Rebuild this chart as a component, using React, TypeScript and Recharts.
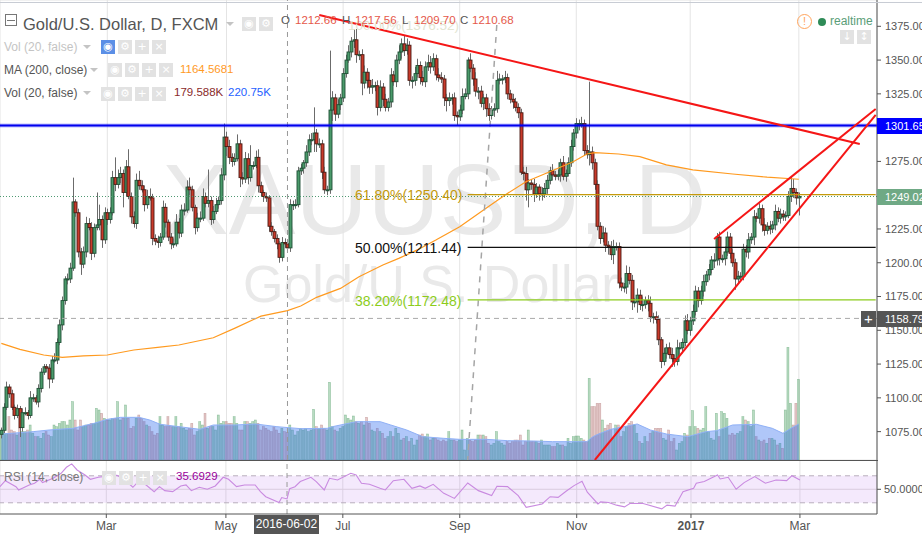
import { ComposedChart, Bar, Line, Area, XAxis, YAxis, CartesianGrid, ReferenceLine, ReferenceArea } from 'recharts'

const closes = [
  1076, 1093, 1108, 1103, 1093, 1087, 1092, 1078, 1089, 1089,
  1087, 1100, 1100, 1097, 1107, 1119, 1123, 1122, 1114, 1128,
  1128, 1141, 1154, 1172, 1188, 1188, 1196, 1245, 1237, 1208,
  1199, 1208, 1229, 1226, 1207, 1226, 1228, 1232, 1217, 1237,
  1232, 1237, 1263, 1258, 1263, 1266, 1252, 1271, 1249, 1234,
  1229, 1261, 1257, 1254, 1243, 1249, 1248, 1218, 1216, 1215,
  1219, 1241, 1230, 1219, 1214, 1214, 1230, 1222, 1239, 1239,
  1256, 1254, 1241, 1226, 1233, 1233, 1249, 1244, 1246, 1232,
  1238, 1243, 1246, 1265, 1293, 1286, 1278, 1275, 1277, 1288,
  1263, 1262, 1277, 1263, 1272, 1272, 1278, 1257, 1252, 1249,
  1248, 1227, 1223, 1218, 1214, 1204, 1215, 1214, 1211, 1243,
  1243, 1243, 1268, 1270, 1274, 1282, 1291, 1291, 1296, 1288,
  1288, 1267, 1254, 1254, 1313, 1322, 1310, 1317, 1322, 1340,
  1350, 1356, 1364, 1365, 1354, 1354, 1333, 1341, 1335, 1330,
  1331, 1331, 1315, 1330, 1321, 1315, 1319, 1339, 1334, 1350,
  1356, 1362, 1357, 1361, 1335, 1335, 1340, 1346, 1337, 1334,
  1345, 1348, 1345, 1351, 1339, 1337, 1336, 1322, 1320, 1322,
  1322, 1309, 1308, 1313, 1323, 1325, 1350, 1344, 1336, 1327,
  1327, 1318, 1322, 1314, 1309, 1313, 1314, 1335, 1336, 1336,
  1337, 1325, 1321, 1319, 1315, 1311, 1267, 1266, 1254, 1259,
  1258, 1251, 1256, 1251, 1251, 1255, 1261, 1268, 1265, 1264,
  1265, 1274, 1264, 1266, 1274, 1286, 1296, 1303, 1303, 1303,
  1283, 1280, 1282, 1274, 1258, 1227, 1218, 1222, 1213, 1212,
  1206, 1212, 1212, 1185, 1182, 1182, 1192, 1187, 1171, 1171,
  1176, 1169, 1169, 1172, 1170, 1160, 1160, 1158, 1143, 1127,
  1133, 1137, 1132, 1129, 1127, 1137, 1137, 1141, 1157, 1150,
  1157, 1164, 1179, 1172, 1179, 1186, 1191, 1195, 1202, 1202,
  1219, 1203, 1203, 1208, 1219, 1207, 1200, 1188, 1190, 1190,
  1210, 1208, 1217, 1219, 1234, 1233, 1240, 1228, 1224, 1227,
  1225, 1228, 1238, 1233, 1236, 1234, 1235, 1249, 1255, 1252,
  1248, 1249,
]

// wick length above / below the candle body, in dollars
const upperWicks = [
  2, 3, 4, 2, 3, 2, 3, 2, 3, 4, 2, 5, 3, 2, 3, 3, 2, 2, 3, 3,
  5, 3, 4, 3, 2, 4, 4, 18, 2, 3, 3, 4, 5, 4, 4, 3, 24, 11, 3, 4,
  3, 4, 5, 15, 6, 5, 3, 5, 13, 3, 4, 5, 7, 4, 3, 5, 6, 3, 3, 4,
  3, 5, 3, 2, 3, 4, 6, 3, 4, 5, 5, 7, 3, 2, 4, 5, 6, 3, 23, 3,
  4, 5, 3, 5, 10, 4, 5, 3, 4, 7, 3, 4, 5, 4, 15, 3, 5, 6, 3, 2,
  3, 2, 3, 2, 3, 2, 4, 3, 3, 4, 3, 4, 3, 3, 2, 5, 4, 5, 19, 3,
  4, 3, 4, 3, 44, 5, 3, 4, 3, 4, 4, 5, 3, 8, 8, 3, 4, 5, 3, 6,
  5, 3, 4, 5, 3, 4, 3, 5, 3, 4, 5, 4, 6, 5, 3, 3, 5, 5, 3, 5,
  4, 6, 5, 4, 3, 5, 4, 3, 3, 4, 3, 4, 3, 4, 6, 4, 2, 5, 3, 5,
  3, 4, 3, 3, 4, 3, 4, 7, 4, 3, 5, 3, 3, 4, 3, 3, 3, 4, 5, 3,
  3, 4, 3, 2, 5, 4, 4, 3, 5, 3, 4, 3, 5, 3, 4, 5, 3, 4, 3, 5,
  3, 4, 52, 4, 3, 3, 3, 5, 4, 3, 4, 5, 3, 3, 4, 3, 6, 5, 4, 3,
  5, 4, 6, 3, 4, 5, 3, 4, 3, 2, 4, 3, 4, 5, 3, 6, 4, 3, 4, 5,
  3, 5, 4, 3, 4, 5, 3, 4, 3, 5, 3, 4, 3, 4, 4, 3, 3, 3, 4, 3,
  4, 3, 5, 3, 5, 3, 4, 3, 5, 3, 4, 3, 5, 3, 4, 3, 3, 4, 9, 7,
  3, 3,
]

const lowerWicks = [
  3, 2, 2, 3, 2, 3, 2, 7, 3, 2, 3, 2, 3, 2, 4, 3, 2, 3, 7, 3,
  2, 3, 2, 4, 3, 4, 3, 2, 3, 4, 8, 3, 4, 2, 5, 3, 2, 4, 6, 3,
  4, 3, 2, 5, 3, 4, 11, 3, 2, 5, 3, 4, 3, 2, 5, 3, 2, 5, 3, 4,
  3, 2, 4, 3, 4, 3, 2, 4, 3, 4, 2, 4, 3, 5, 3, 3, 2, 3, 3, 4,
  3, 2, 3, 3, 4, 7, 5, 4, 3, 2, 7, 4, 3, 5, 3, 3, 2, 5, 3, 4,
  3, 4, 3, 3, 4, 4, 3, 3, 2, 3, 4, 3, 2, 3, 4, 3, 3, 4, 9, 6,
  3, 5, 3, 4, 3, 8, 5, 3, 4, 3, 3, 2, 4, 5, 6, 4, 9, 4, 6, 5,
  5, 4, 6, 3, 5, 3, 3, 4, 3, 4, 3, 5, 4, 3, 4, 6, 4, 3, 5, 3,
  4, 3, 5, 3, 4, 3, 3, 6, 8, 4, 5, 4, 6, 3, 3, 2, 4, 3, 5, 4,
  6, 3, 5, 6, 4, 3, 5, 3, 3, 4, 3, 4, 3, 5, 3, 4, 2, 5, 8, 13,
  4, 6, 3, 5, 5, 3, 4, 3, 4, 3, 3, 5, 3, 4, 2, 3, 3, 4, 5, 3,
  4, 3, 8, 5, 4, 3, 4, 3, 5, 6, 4, 7, 3, 4, 3, 4, 5, 3, 6, 4,
  8, 4, 5, 3, 6, 4, 5, 3, 4, 5, 3, 4, 3, 6, 4, 3, 5, 4, 3, 3,
  4, 3, 3, 5, 3, 4, 3, 4, 3, 6, 4, 5, 3, 5, 3, 4, 3, 8, 3, 4,
  3, 4, 5, 3, 6, 3, 4, 5, 4, 3, 4, 3, 4, 3, 4, 3, 3, 2, 4, 4,
  5, 13,
]

// relative volume, drawn on its own hidden axis
const volumes = [
  80, 85, 80, 130, 90, 85, 75, 95, 85, 85, 90, 105, 80, 70, 70, 65, 80, 85, 75, 70,
  105, 100, 110, 115, 115, 105, 120, 175, 120, 90, 120, 100, 105, 105, 110, 110, 155, 150, 140, 125,
  120, 120, 125, 125, 175, 120, 125, 165, 125, 95, 100, 125, 135, 125, 115, 105, 100, 85, 75, 80,
  130, 105, 100, 130, 100, 100, 130, 100, 110, 95, 90, 95, 110, 75, 85, 115, 105, 140, 95, 100,
  100, 90, 135, 110, 115, 115, 110, 110, 130, 110, 90, 90, 115, 115, 110, 115, 120, 110, 90, 100,
  95, 90, 85, 100, 90, 80, 95, 85, 83, 105, 90, 75, 85, 95, 90, 95, 85, 90, 152, 100,
  95, 105, 95, 90, 233, 100, 90, 85, 95, 100, 135, 125, 120, 132, 115, 110, 115, 105, 128, 110,
  90, 85, 95, 85, 80, 65, 70, 85, 70, 95, 80, 60, 65, 70, 55, 65, 45, 60, 75, 78,
  70, 78, 60, 65, 65, 60, 55, 60, 55, 85, 60, 60, 55, 60, 90, 30, 65, 60, 55, 60,
  75, 75, 75, 70, 50, 45, 50, 85, 55, 50, 45, 55, 50, 55, 60, 60, 75, 45, 55, 90,
  55, 55, 55, 50, 60, 45, 45, 45, 40, 40, 50, 45, 45, 40, 65, 50, 70, 72, 72, 65,
  60, 55, 245, 160, 160, 170, 170, 120, 95, 105, 110, 65, 105, 105, 70, 85, 100, 110, 115, 105,
  80, 55, 50, 70, 55, 80, 85, 95, 95, 95, 65, 60, 90, 55, 65, 30, 50, 55, 80, 75,
  100, 148, 100, 95, 90, 95, 160, 85, 65, 60, 140, 70, 145, 140, 125, 75, 80, 75, 80, 85,
  130, 120, 115, 100, 150, 70, 60, 55, 60, 50, 65, 65, 60, 45, 50, 35, 150, 338, 170, 105,
  170, 242,
]

// [bar index, value]
const volMaPoints = [
  [0, 78], [12, 85], [18, 90], [27, 95], [35, 110], [40, 122], [45, 128], [52, 128], [56, 120], [60, 107],
  [67, 100], [75, 92], [80, 105], [88, 105], [96, 108], [104, 100], [113, 94], [123, 95], [125, 100], [134, 115],
  [143, 115], [147, 105], [153, 90], [159, 70], [167, 65], [173, 62], [183, 62], [191, 58], [201, 57], [208, 55],
  [221, 55], [222, 62], [223, 68], [224, 73], [226, 80], [230, 92], [240, 108], [245, 90], [251, 78], [259, 70],
  [266, 85], [270, 88], [276, 105], [285, 107], [291, 95], [295, 80], [298, 95], [301, 108],
]

const ma200Points = [
  [0, 1140.3], [7, 1135.9], [16, 1131.7], [23, 1130], [31, 1131], [40, 1131.7], [50, 1135.4], [59, 1137.4],
  [67, 1139.1], [80, 1144.5], [88, 1151.4], [98, 1160.5], [108, 1164.6], [113, 1168], [119, 1174.4], [128, 1181],
  [135, 1189.7], [144, 1198.3], [150, 1203.2], [157, 1209.5], [164, 1216.8], [173, 1226.7], [182, 1239], [190, 1250],
  [198, 1260], [207, 1267.4], [216, 1274.9], [221, 1280.5], [224, 1281.5], [233, 1280.5], [241, 1278.5], [251, 1272.4],
  [261, 1268.7], [276, 1265.7], [289, 1263.3], [301, 1261.8],
]

const rsiPoints = [
  [0, 53.9], [2, 62.8], [6, 53.9], [7, 49], [11, 56.4], [13, 58.9], [15, 64.8], [16, 59.9], [20, 66.3], [23, 73.7],
  [25, 82.6], [27, 87.6], [29, 78.6], [32, 71.2], [34, 64.8], [37, 67.8], [41, 69.8], [44, 70.7], [47, 63.8], [50, 53],
  [52, 61.4], [55, 56.4], [58, 46.5], [60, 53.9], [62, 48], [65, 46.5], [68, 54.9], [70, 56.4], [72, 48], [75, 53],
  [78, 50], [81, 54.9], [84, 67.8], [86, 64.8], [89, 53.9], [92, 56.4], [96, 56.4], [98, 46.5], [100, 39], [105, 30.4],
  [106, 37.8], [108, 35.7], [109, 51], [111, 53.9], [113, 61.4], [117, 67.8], [119, 61.4], [122, 49], [124, 66.3], [127, 63.8],
  [132, 73.7], [134, 71.2], [136, 58.9], [139, 57.4], [143, 51.5], [145, 49], [148, 62.8], [152, 64.8], [155, 51.5], [158, 55],
  [160, 51.5], [163, 57.4], [167, 44], [171, 36.5], [176, 59.4], [180, 48], [185, 40.6], [187, 54.4], [191, 53.9], [195, 40.6],
  [198, 23.3], [204, 28.3], [207, 39], [210, 38], [213, 47], [216, 55.4], [219, 61.9], [221, 45.7], [225, 28.3], [226, 31.3],
  [229, 30.4], [232, 26.5], [235, 24], [237, 29], [242, 29], [249, 21], [251, 26.5], [254, 25], [257, 46.5], [261, 51.5],
  [262, 58.9], [265, 61.4], [270, 71.2], [271, 65.3], [274, 67.8], [277, 50], [280, 59.9], [284, 68.8], [288, 59], [292, 63.8],
  [296, 62.8], [298, 70.2], [301, 63.8],
]

const priceTicks = [1075, 1100, 1125, 1150, 1175, 1200, 1225, 1250, 1275, 1300, 1325, 1350, 1375]
const timeTicks = [40, 85, 129, 173, 217, 260, 301]
const timeLabels = ['Mar', 'May', 'Jul', 'Sep', 'Nov', '2017', 'Mar']
const fibLevels = [
  { label: '61.80%(1250.40)', price: 1250.4, color: '#c49a0c' },
  { label: '50.00%(1211.44)', price: 1211.44, color: '#111111' },
  { label: '38.20%(1172.48)', price: 1172.48, color: '#8ccc1c' },
]

const ROWS = 331
const WIDTH = 922
const FONT = '"Liberation Sans", Arial, sans-serif'
const PRICE_DOMAIN = [1054, 1394.47]

const maMap = new Map(ma200Points.map(p => [p[0], p[1]]))
const volMaMap = new Map(volMaPoints.map(p => [p[0], p[1]]))
const rsiMap = new Map(rsiPoints.map(p => [p[0], p[1]]))

const rows = Array.from({ length: ROWS }, (_, i) => {
  const close = closes[i]
  if (close === undefined) return { i }
  const open = i === 0 ? 1073 : closes[i - 1]
  const high = Math.max(open, close) + upperWicks[i]
  const low = Math.min(open, close) - lowerWicks[i]
  return {
    i, open, close, range: [low, high], vol: volumes[i],
    ma: maMap.get(i), volMa: volMaMap.get(i), rsi: rsiMap.get(i),
  }
})

function Candle(props: any) {
  const { x, y, width, height, payload } = props
  if (!payload || !payload.range) return null
  const [low, high] = payload.range
  const perUnit = height / (high - low)
  const up = payload.close >= payload.open
  const cx = Math.round(x + width / 2) + 0.5
  const top = y + (high - Math.max(payload.open, payload.close)) * perUnit
  const h = Math.max(Math.abs(payload.close - payload.open) * perUnit, 1)
  return (
    <g>
      <line x1={cx} x2={cx} y1={y} y2={y + height} stroke="#6b6b6b" strokeWidth={1} />
      <rect x={cx - 1.5} y={top} width={3} height={h} fill={up ? '#4a9a6a' : '#c93a2a'} stroke={up ? '#1f4f35' : '#4a1c14'} strokeWidth={0.9} />
    </g>
  )
}

function VolumeBar(props: any) {
  const { x, y, width, height, payload } = props
  if (!payload || !payload.vol) return null
  const up = payload.close >= payload.open
  return <rect x={x} y={y} width={width} height={height} fill={up ? 'rgba(60,155,85,0.36)' : 'rgba(165,80,80,0.3)'} stroke={up ? 'rgba(60,145,85,0.45)' : 'rgba(155,80,80,0.4)'} strokeWidth={0.6} />
}

function TimeTick(props: any) {
  const { x, y, payload } = props
  const label = timeLabels[timeTicks.indexOf(payload.value)]
  return (
    <text x={x} y={y + 10} textAnchor="middle" fontSize={12} fontFamily={FONT} fill="#555" fontWeight={label === '2017' ? 700 : 400}>
      {label}
    </text>
  )
}

function Txt({ x, y, size = 12, color = '#555', weight = 400, children }: any) {
  return (
    <div style={{ position: 'absolute', left: x, top: y, fontSize: size, lineHeight: `${size + 2}px`, color, fontWeight: weight, whiteSpace: 'nowrap', fontFamily: FONT }}>
      {children}
    </div>
  )
}

function Btn({ x, y, color = '#e2e2e2', children }: any) {
  return (
    <div style={{ position: 'absolute', left: x, top: y, width: 14, height: 14, background: color, color: '#fff', fontSize: 11, lineHeight: '14px', textAlign: 'center', fontFamily: '"DejaVu Sans", sans-serif' }}>
      {children}
    </div>
  )
}

function Caret({ x, y }: any) {
  return <div style={{ position: 'absolute', left: x, top: y, width: 0, height: 0, borderLeft: '4px solid transparent', borderRight: '4px solid transparent', borderTop: '4px solid #c4c4c4' }} />
}

function Tag({ y, bg, children }: any) {
  return (
    <div style={{ position: 'absolute', left: 877, top: y, width: 45, height: 16, background: bg, color: '#fff', overflow: 'hidden', fontSize: 11, lineHeight: '16px', paddingLeft: 8, boxSizing: 'border-box', whiteSpace: 'nowrap', fontFamily: FONT }}>
      {children}
    </div>
  )
}

export default function App() {
  return (
    <div style={{ position: 'absolute', left: 0, top: 0, width: WIDTH, height: 534, background: '#fff', overflow: 'hidden' }}>
      {/* watermark */}
      <div style={{ position: 'absolute', left: 162, top: 142, fontSize: 100, lineHeight: '115px', color: '#e9e9e9', fontFamily: FONT, whiteSpace: 'nowrap' }}>XAUUSD, D</div>
      <div style={{ position: 'absolute', left: 243, top: 254, fontSize: 52, lineHeight: '60px', color: '#e9e9e9', fontFamily: FONT, whiteSpace: 'nowrap' }}>Gold/U.S. Dollar</div>

      {/* grid and volume sit under the volume average, so they go in a layer of their own */}
      <div style={{ position: 'absolute', left: 0, top: 0 }}>
        <ComposedChart width={WIDTH} height={460} data={rows} margin={{ top: 0, right: 45, bottom: 0, left: 0 }}>
          <CartesianGrid stroke="#e4e4e4" strokeWidth={1} />
          <XAxis dataKey="i" type="category" ticks={timeTicks} interval={0} hide />
          <YAxis domain={PRICE_DOMAIN} ticks={priceTicks} interval={0} hide />
          <YAxis yAxisId="vol" domain={[0, 1380]} hide />
          <Bar yAxisId="vol" dataKey="vol" barSize={2} shape={VolumeBar} isAnimationActive={false} />
        </ComposedChart>
      </div>

      <div style={{ position: 'absolute', left: 0, top: 0 }}>
        <ComposedChart width={WIDTH} height={460} data={rows} margin={{ top: 0, right: 0, bottom: 0, left: 0 }}>
          <XAxis dataKey="i" type="category" ticks={timeTicks} interval={0} hide />
          <YAxis
            orientation="right"
            width={45}
            domain={PRICE_DOMAIN}
            ticks={priceTicks}
            interval={0}
            tickFormatter={(v: number) => v.toFixed(2)}
            tick={{ fontSize: 11, fill: '#555', fontFamily: FONT }}
            tickSize={4}
            tickMargin={4}
            tickLine={{ stroke: '#555' }}
            axisLine={{ stroke: '#555', strokeWidth: 1 }}
          />
          <YAxis yAxisId="vol" domain={[0, 1380]} hide />

          <Area yAxisId="vol" dataKey="volMa" type="linear" connectNulls stroke="#8fb0f6" strokeWidth={1} fill="#2f6bf0" fillOpacity={0.38} dot={false} activeDot={false} isAnimationActive={false} />
          <Bar dataKey="range" barSize={3} shape={Candle} isAnimationActive={false} />
          <Line dataKey="ma" type="linear" connectNulls stroke="#ff9a1f" strokeWidth={1.2} dot={false} activeDot={false} isAnimationActive={false} />

          <ReferenceLine y={1249.02} stroke="#4f9a72" strokeWidth={1} strokeDasharray="1 2" />
          <ReferenceLine y={1158.79} stroke="#aaaaaa" strokeWidth={1} strokeDasharray="5 4" />
          <ReferenceLine x={108} stroke="#999999" strokeWidth={1} strokeDasharray="5 4" />
          <ReferenceLine segment={[{ x: 187, y: 1376 }, { x: 176, y: 1054 }]} stroke="#a5a5a5" strokeWidth={1.5} strokeDasharray="6 6" ifOverflow="visible" />
          <ReferenceLine y={1301.65} stroke="#0000ff" strokeOpacity={0.25} strokeWidth={4} />
          <ReferenceLine y={1301.65} stroke="#0000ee" strokeWidth={2} />
          {fibLevels.map(f => (
            <ReferenceLine key={f.label} segment={[{ x: 176, y: f.price }, { x: 330, y: f.price }]} stroke={f.color} strokeWidth={1.2} ifOverflow="visible" />
          ))}
          <ReferenceLine segment={[{ x: 120, y: 1383.4 }, { x: 324, y: 1287.9 }]} stroke="#f51616" strokeWidth={2} ifOverflow="visible" />
          <ReferenceLine segment={[{ x: 269, y: 1217.6 }, { x: 330, y: 1313.8 }]} stroke="#f51616" strokeWidth={2} ifOverflow="visible" />
          <ReferenceLine segment={[{ x: 224, y: 1054 }, { x: 330, y: 1309.4 }]} stroke="#f51616" strokeWidth={2} ifOverflow="visible" />
        </ComposedChart>
      </div>

      <div style={{ position: 'absolute', left: 0, top: 461 }}>
        <ComposedChart width={WIDTH} height={73} data={rows} margin={{ top: 0, right: 0, bottom: 0, left: 0 }}>
          <CartesianGrid stroke="#e4e4e4" strokeWidth={1} horizontal={false} />
          <XAxis
            dataKey="i"
            type="category"
            ticks={timeTicks}
            interval={0}
            height={20}
            tick={TimeTick}
            tickSize={4}
            tickLine={{ stroke: '#555' }}
            axisLine={{ stroke: '#555', strokeWidth: 1 }}
          />
          <YAxis
            orientation="right"
            width={45}
            domain={[13.4, 91.9]}
            ticks={[50]}
            tickFormatter={(v: number) => v.toFixed(4)}
            tick={{ fontSize: 11, fill: '#555', fontFamily: FONT }}
            tickSize={4}
            tickMargin={3}
            tickLine={{ stroke: '#555' }}
            axisLine={{ stroke: '#555', strokeWidth: 1 }}
          />
          <ReferenceArea y1={30} y2={70} fill="#a64ce6" fillOpacity={0.12} stroke="none" ifOverflow="visible" />
          <ReferenceLine y={70} stroke="#b8aebc" strokeDasharray="5 4" />
          <ReferenceLine y={50} stroke="#d9ccde" />
          <ReferenceLine y={30} stroke="#b8aebc" strokeDasharray="5 4" />
          <ReferenceLine x={108} stroke="#999999" strokeWidth={1} strokeDasharray="5 4" />
          <Line dataKey="rsi" type="linear" connectNulls stroke="#c98ae0" strokeWidth={1.1} dot={false} activeDot={false} isAnimationActive={false} />
        </ComposedChart>
      </div>

      {/* pane borders */}
      <div style={{ position: 'absolute', left: 0, top: 2, width: WIDTH, height: 1, background: '#c8ccd4' }} />
      <div style={{ position: 'absolute', left: 0, top: 460, width: 878, height: 1, background: '#555' }} />

      {/* fib labels */}
      <Txt x={348} y={18} size={13.5} color="#e2e5d2">100.00%(1376.52)</Txt>
      <Txt x={355} y={187} size={14} color="#c49a0c">{fibLevels[0].label}</Txt>
      <Txt x={355} y={240} size={14} color="#111111">{fibLevels[1].label}</Txt>
      <Txt x={355} y={293} size={14} color="#8ccc1c">{fibLevels[2].label}</Txt>

      {/* legend */}
      <div style={{ position: 'absolute', left: 5, top: 14, width: 10, height: 10, border: '1px solid #777' }}>
        <div style={{ position: 'absolute', left: 1, top: 5, width: 8, height: 1, background: '#777' }} />
      </div>
      <Txt x={23} y={15} size={16.5} color="#555">Gold/U.S. Dollar, D, FXCM</Txt>
      <Caret x={226} y={22} />
      <Btn x={242} y={17}>◉</Btn>
      <Btn x={259} y={17}>⚙</Btn>

      <Txt x={281} y={14} size={11.5}>O</Txt>
      <Txt x={295} y={14} size={11.5} color="#e5584a">1212.66</Txt>
      <Txt x={342} y={14} size={11.5}>H</Txt>
      <Txt x={355} y={14} size={11.5} color="#e5584a">1217.56</Txt>
      <Txt x={402} y={14} size={11.5}>L</Txt>
      <Txt x={414} y={14} size={11.5} color="#e5584a">1209.70</Txt>
      <Txt x={460} y={14} size={11.5}>C</Txt>
      <Txt x={472} y={14} size={11.5} color="#e5584a">1210.68</Txt>

      <Txt x={4} y={40} color="#c4c4c4">Vol (20, false)</Txt>
      <Caret x={83} y={45} />
      <Btn x={101} y={40} color="#5b8fe6">◉</Btn>
      <Btn x={118} y={40}>⚙</Btn>
      <Btn x={135} y={40}>+</Btn>
      <Btn x={152} y={40}>×</Btn>

      <Txt x={4} y={63}>MA (200, close)</Txt>
      <Caret x={90} y={68} />
      <Btn x={108} y={63}>◉</Btn>
      <Btn x={125} y={63}>⚙</Btn>
      <Btn x={142} y={63}>+</Btn>
      <Btn x={159} y={63}>×</Btn>
      <Txt x={180} y={63} size={11.5} color="#ff9a1f">1164.5681</Txt>

      <Txt x={4} y={86}>Vol (20, false)</Txt>
      <Caret x={83} y={91} />
      <Btn x={101} y={87}>◉</Btn>
      <Btn x={118} y={87}>⚙</Btn>
      <Btn x={135} y={87}>+</Btn>
      <Btn x={152} y={87}>×</Btn>
      <Txt x={174} y={86} size={11.5} color="#8a2b2b">179.588K</Txt>
      <Txt x={228} y={86} size={11.5} color="#1f5fff">220.75K</Txt>

      <Txt x={4} y={470} color="#777">RSI (14, close)</Txt>
      <Btn x={102} y={471}>◉</Btn>
      <Btn x={119} y={471}>⚙</Btn>
      <Btn x={136} y={471}>+</Btn>
      <Btn x={153} y={471}>×</Btn>
      <Txt x={176} y={470} size={11.5} color="#990099">35.6929</Txt>

      {/* realtime badge */}
      <div style={{ position: 'absolute', left: 797, top: 14, width: 13, height: 13, border: '1.5px solid #ffa45c', borderRadius: '50%', color: '#ffa45c', fontSize: 11, lineHeight: '13px', textAlign: 'center', fontFamily: FONT }}>!</div>
      <div style={{ position: 'absolute', left: 818, top: 18, width: 8, height: 8, background: '#2e8b57', borderRadius: '50%' }} />
      <Txt x={830} y={14} size={12} color="#5a9e78">realtime</Txt>
      <Btn x={840} y={30}>↓</Btn>
      <Btn x={857} y={30}>↕</Btn>

      {/* price tags */}
      <Tag y={118} bg="#0000ff">1301.65</Tag>
      <Tag y={189} bg="#6fa985">1249.02</Tag>
      <Tag y={311} bg="#555555">1158.79</Tag>
      <div style={{ position: 'absolute', left: 861, top: 311, width: 15, height: 16, background: '#555', color: '#fff', fontSize: 15, lineHeight: '16px', textAlign: 'center', fontFamily: FONT }}>+</div>

      {/* crosshair date */}
      <div style={{ position: 'absolute', left: 254, top: 515, width: 65, height: 19, background: '#555', color: '#fff', fontSize: 12, lineHeight: '19px', textAlign: 'center', fontFamily: FONT }}>2016-06-02</div>
    </div>
  )
}
